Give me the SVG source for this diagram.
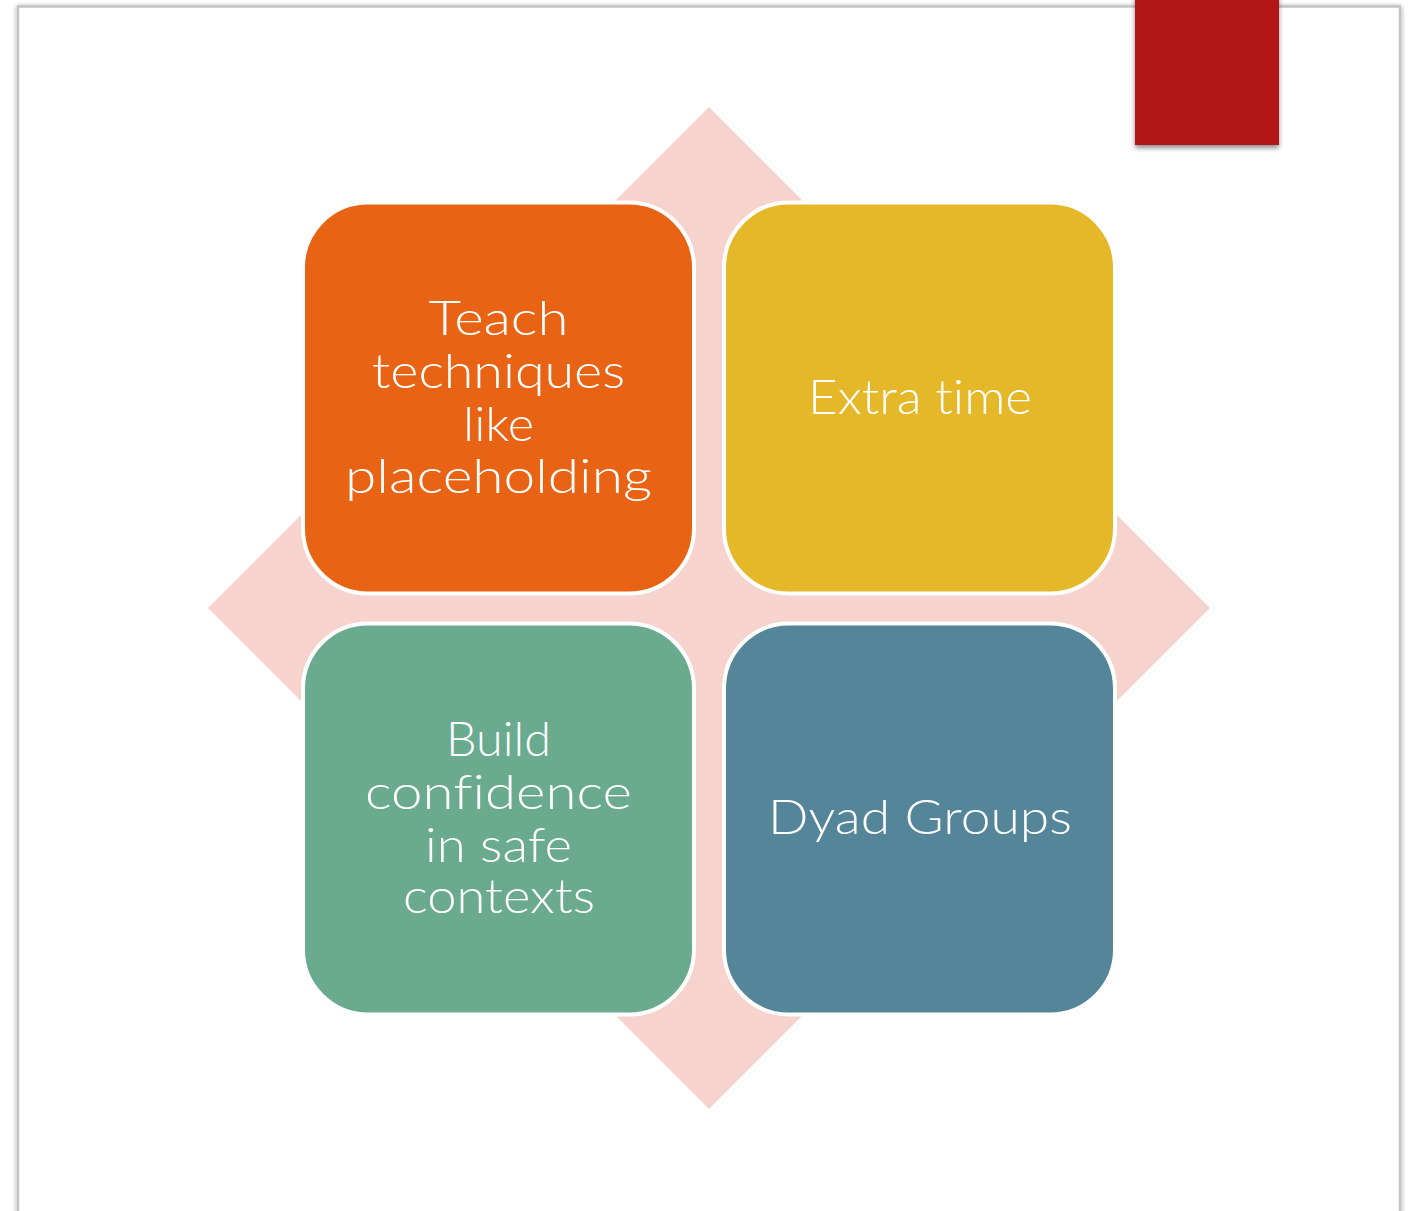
<svg xmlns="http://www.w3.org/2000/svg" width="1415" height="1211" viewBox="0 0 1415 1211">
  <defs>
    <filter id="pageShadow" x="-5%" y="-5%" width="110%" height="110%">
      <feGaussianBlur in="SourceAlpha" stdDeviation="2.5"/>
      <feOffset dx="0" dy="1" result="b"/>
      <feComponentTransfer><feFuncA type="linear" slope="0.4"/></feComponentTransfer>
      <feMerge><feMergeNode/><feMergeNode in="SourceGraphic"/></feMerge>
    </filter>
    <filter id="redShadow" x="-20%" y="-20%" width="140%" height="140%">
      <feGaussianBlur in="SourceAlpha" stdDeviation="2.5"/>
      <feOffset dx="0" dy="3" result="b"/>
      <feComponentTransfer><feFuncA type="linear" slope="0.45"/></feComponentTransfer>
      <feMerge><feMergeNode/><feMergeNode in="SourceGraphic"/></feMerge>
    </filter>
  </defs>
  <style>
    .box { stroke: #ffffff; stroke-width: 4; }
    .lbl { font-family: "Lato", "Liberation Sans", sans-serif; font-weight: 300; font-size: 47px; fill: #ffffff; text-anchor: middle; font-variant-ligatures: none; font-feature-settings: "liga" 0, "clig" 0, "dlig" 0; }
  </style>
  <rect x="0" y="0" width="1415" height="1211" fill="#ffffff"/>
  <g id="page">
    <rect x="18" y="6.5" width="1382" height="1230" fill="#ffffff" stroke="#c4c4c4" stroke-width="2.5" filter="url(#pageShadow)"/>
  </g>
  <g id="accent">
    <rect x="1135" y="-6" width="144" height="151" fill="#B01513" filter="url(#redShadow)"/>
  </g>
  <g id="diamond">
    <polygon points="709,107 1210,608 709,1109 208,608" fill="#F6D3CC"/>
  </g>
  <g id="connectors"></g>
  <g id="node-teach">
    <rect class="box" x="303" y="202.5" width="391" height="391" rx="65" ry="65" fill="#E96314"/>
    <text class="lbl" x="498.5" y="335" textLength="140" lengthAdjust="spacingAndGlyphs">Teach</text>
    <text class="lbl" x="498.5" y="388" textLength="253" lengthAdjust="spacingAndGlyphs">techniques</text>
    <text class="lbl" x="498.5" y="441" textLength="71" lengthAdjust="spacingAndGlyphs">like</text>
    <text class="lbl" x="498.5" y="493" textLength="307" lengthAdjust="spacingAndGlyphs">placeholding</text>
  </g>
  <g id="node-extra">
    <rect class="box" x="724" y="202.5" width="391" height="391" rx="65" ry="65" fill="#E5B829"/>
    <text class="lbl" x="920" y="414" textLength="224" lengthAdjust="spacingAndGlyphs">Extra time</text>
  </g>
  <g id="node-build">
    <rect class="box" x="303" y="623.5" width="391" height="391" rx="65" ry="65" fill="#6AAB8F"/>
    <text class="lbl" x="498.5" y="756" textLength="105" lengthAdjust="spacingAndGlyphs">Build</text>
    <text class="lbl" x="498.5" y="809" textLength="267" lengthAdjust="spacingAndGlyphs">confidence</text>
    <text class="lbl" x="498.5" y="862" textLength="147" lengthAdjust="spacingAndGlyphs">in safe</text>
    <text class="lbl" x="499" y="913" textLength="192" lengthAdjust="spacingAndGlyphs">contexts</text>
  </g>
  <g id="node-dyad">
    <rect class="box" x="724" y="623.5" width="391" height="391" rx="65" ry="65" fill="#548599"/>
    <text class="lbl" x="920" y="834" textLength="304" lengthAdjust="spacingAndGlyphs">Dyad Groups</text>
  </g>
</svg>
